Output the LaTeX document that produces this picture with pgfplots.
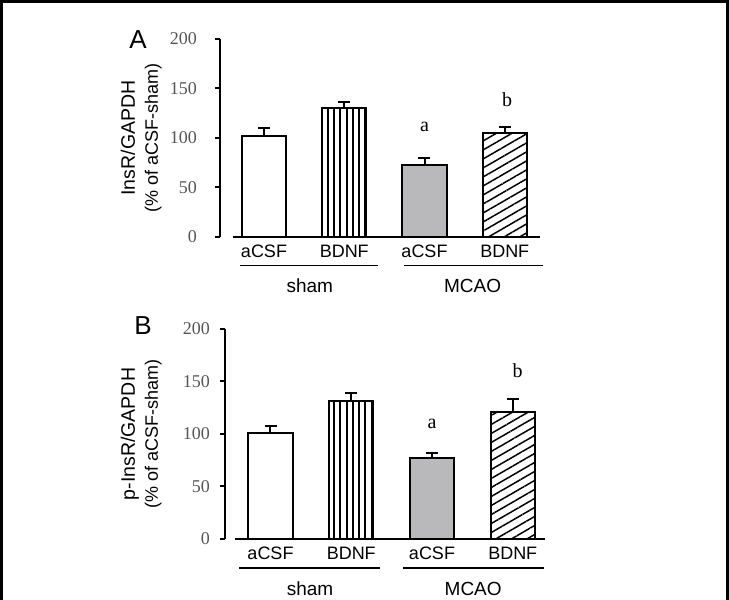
\documentclass[border=0pt]{standalone}
\usepackage{pgfplots}
\pgfplotsset{compat=1.18}
\usepackage{fontspec}
\setmainfont{Liberation Serif}
\setsansfont{Liberation Sans}
\usetikzlibrary{patterns.meta}
\definecolor{barfill}{RGB}{185,185,187}
\definecolor{ticktext}{RGB}{85,85,85}

\pgfplotsset{
 panel/.style={
  scale only axis, anchor=origin,
  ymin=0, ymax=200, ytick={0,50,...,200},
  axis y line*=left, axis x line*=bottom,
  x axis line style={draw=none}, xtick style={draw=none},
  xtick={0,1,2,3}, xticklabels={aCSF,BDNF,aCSF,BDNF},
  xticklabel style={font=\sffamily\fontsize{9}{10}\selectfont, text=black, yshift=2pt},
  yticklabel style={font=\rmfamily\fontsize{9}{10}\selectfont, text=ticktext},
  /pgf/number format/assume math mode=true,
  tick align=outside, major tick length=2.5pt,
  y axis line style={line width=1pt}, ytick style={line width=1pt, black},
  clip=false,
  ybar, bar width=0.55, bar shift=0pt,
  error bars/y dir=plus, error bars/y explicit,
  error bars/error bar style={line width=1pt, black},
  error bars/error mark options={rotate=90, mark size=3pt, line width=1pt, black},
  ylabel style={align=center, font=\sffamily\fontsize{9}{11.5}\selectfont, anchor=center},
 },
 b1/.style={fill=white, draw=black, line width=1pt},
 b2/.style={draw=black, line width=1pt, pattern={Lines[angle=90,distance=3.15pt,line width=1pt]}},
 b3/.style={fill=barfill, draw=black, line width=1pt},
 b4/.style={draw=black, line width=1pt, pattern={Lines[angle=30,distance=3.9pt,line width=0.75pt]}},
}

\begin{document}
\begin{tikzpicture}[x=0.5pt, y=0.5pt]
\useasboundingbox (0,0) rectangle (729,600);

% ---------------- Panel A ----------------
\begin{axis}[panel,
  at={(132pt,181.5pt)}, width=160.5pt, height=99pt,
  xmin=-0.55, xmax=3.45,
  ylabel={{\fontsize{9.75}{11.5}\selectfont InsR/GAPDH}\\{\fontsize{9}{11.5}\selectfont (\% of aCSF-sham)}},
  ylabel style={at={(axis description cs:-0.245,0.5)}},
  yticklabel style={xshift=-5.5pt},
]
\addplot[b1] coordinates {(0,102) +- (0,8)};
\addplot[b2] coordinates {(1,130) +- (0,6)};
\addplot[b3] coordinates {(2,73) +- (0,7)};
\addplot[b4] coordinates {(3,105) +- (0,6)};
\draw[line width=1pt] (axis cs:-0.386,0) -- (axis cs:3.437,0);
\draw[line width=0.75pt] (axis cs:-0.30,-29) -- (axis cs:1.42,-29);
\draw[line width=0.75pt] (axis cs:1.745,-29) -- (axis cs:3.48,-29);
\node[font=\sffamily\fontsize{9.5}{10}\selectfont] at (axis cs:0.57,-49.5) {sham};
\node[font=\sffamily\fontsize{9.5}{10}\selectfont] at (axis cs:2.60,-49.5) {MCAO};
\node[font=\rmfamily\fontsize{10}{11}\selectfont] at (axis cs:2.0,111) {a};
\node[font=\rmfamily\fontsize{10}{11}\selectfont] at (axis cs:3.03,139) {b};
\end{axis}

% ---------------- Panel B ----------------
\begin{axis}[panel,
  at={(135.25pt,30.5pt)}, width=161.5pt, height=105pt,
  xmin=-0.563, xmax=3.437,
  ylabel={{\fontsize{9.75}{11.5}\selectfont p-InsR/GAPDH}\\{\fontsize{9}{11.5}\selectfont (\% of aCSF-sham)}},
  ylabel style={at={(axis description cs:-0.26,0.5)}},
  yticklabel style={xshift=-1.5pt},
]
\addplot[b1] coordinates {(0,101) +- (0,7)};
\addplot[b2] coordinates {(1,131) +- (0,8.5)};
\addplot[b3] coordinates {(2,77) +- (0,5)};
\addplot[b4] coordinates {(3,121) +- (0,12)};
\draw[line width=1pt] (axis cs:-0.44,0) -- (axis cs:3.40,0);
\draw[line width=0.75pt] (axis cs:-0.39,-27.6) -- (axis cs:1.356,-27.6);
\draw[line width=0.75pt] (axis cs:1.64,-27.6) -- (axis cs:3.39,-27.6);
\node[font=\sffamily\fontsize{9.5}{10}\selectfont] at (axis cs:0.49,-47.6) {sham};
\node[font=\sffamily\fontsize{9.5}{10}\selectfont] at (axis cs:2.51,-47.6) {MCAO};
\node[font=\rmfamily\fontsize{10}{11}\selectfont] at (axis cs:2.0,110) {a};
\node[font=\rmfamily\fontsize{10}{11}\selectfont] at (axis cs:3.06,160) {b};
\end{axis}

% panel letters
\node[font=\sffamily\fontsize{13}{14}\selectfont] at (138,560) {A};
\node[font=\sffamily\fontsize{13}{14}\selectfont] at (143,274) {B};

% frame
\draw[line width=1.5pt] (1.5,0) -- (1.5,598.5) -- (727.5,598.5) -- (727.5,0);
\end{tikzpicture}
\end{document}
